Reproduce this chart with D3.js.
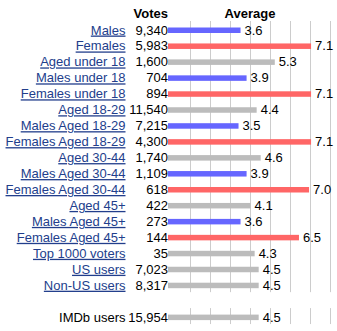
<!DOCTYPE html>
<html><head><meta charset="utf-8">
<script src="https://cdn.jsdelivr.net/npm/d3@7"></script>
<style>
html,body{margin:0;padding:0;background:#fff;}
svg{display:block;font-family:"Liberation Sans",Arial,sans-serif;}
</style></head>
<body>
<svg id="c" width="337" height="331"></svg>
<script>
const categories = ["Males","Females","Aged under 18","Males under 18","Females under 18","Aged 18-29","Males Aged 18-29","Females Aged 18-29","Aged 30-44","Males Aged 30-44","Females Aged 30-44","Aged 45+","Males Aged 45+","Females Aged 45+","Top 1000 voters","US users","Non-US users","IMDb users"];
const votes = [9340,5983,1600,704,894,11540,7215,4300,1740,1109,618,422,273,144,35,7023,8317,15954];
const averages = [3.6,7.1,5.3,3.9,7.1,4.4,3.5,7.1,4.6,3.9,7.0,4.1,3.6,6.5,4.3,4.5,4.5,4.5];
const groups = ["m","f","o","m","f","o","m","f","o","m","f","o","m","f","o","o","o","o"];
const rowIndex = [0,1,2,3,4,5,6,7,8,9,10,11,12,13,14,15,16,18];
const isLink = [1,1,1,1,1,1,1,1,1,1,1,1,1,1,1,1,1,0];
const gridLines = [0,1,2,3,4,5,6,7];

const colors = {m:"#6666ff", f:"#ff6666", o:"#bcbcbc"};
const svg = d3.select("#c");
const rowH = 15.95, top0 = 22;
const y = i => top0 + i*rowH;           // row top
const x = d3.scaleLinear().domain([0,10]).range([168, 369.5]);
const gx = d3.scaleLinear().domain([0,7]).range([190.5, 330.5]);

// gridlines per row segment
const segs = [[0,17],[18,19]];
segs.forEach(([a,b])=>{
  svg.append("g").selectAll("line").data(gridLines).join("line")
    .attr("x1",d=>gx(d)).attr("x2",d=>gx(d))
    .attr("y1",y(a)-1).attr("y2",y(b)-1)
    .attr("stroke","#cccccc").attr("stroke-width",1);
});

// headers
svg.append("text").attr("x",168).attr("y",18).attr("text-anchor","end")
  .attr("font-size",13).attr("font-weight","bold").attr("fill","#000").text("Votes");
svg.append("text").attr("x",250).attr("y",18).attr("text-anchor","middle")
  .attr("font-size",13).attr("font-weight","bold").attr("fill","#000").text("Average");

const rows = categories.map((c,i)=>({c, v:votes[i], a:averages[i], g:groups[i], r:rowIndex[i], link:isLink[i]}));
const fmt = d3.format(",");

const g = svg.append("g").selectAll("g").data(rows).join("g");
g.append("rect")
  .attr("x",x(0)).attr("width",d=>x(d.a)-x(0))
  .attr("y",d=>y(d.r)+5.5).attr("height",5.5)
  .attr("fill",d=>colors[d.g]);
g.append("text").attr("x",125.5).attr("y",d=>y(d.r)+12.5).attr("text-anchor","end")
  .attr("font-size",13).attr("fill",d=>d.link?"#223e8c":"#000")
  .attr("text-decoration",d=>d.link?"underline":null).text(d=>d.c);
g.append("text").attr("x",168).attr("y",d=>y(d.r)+12.5).attr("text-anchor","end")
  .attr("font-size",13).attr("fill","#000").text(d=>fmt(d.v));
g.append("text").attr("x",d=>x(d.a)+4).attr("y",d=>y(d.r)+12.5)
  .attr("font-size",13).attr("fill","#000").text(d=>d.a.toFixed(1));
</script>
</body></html>
